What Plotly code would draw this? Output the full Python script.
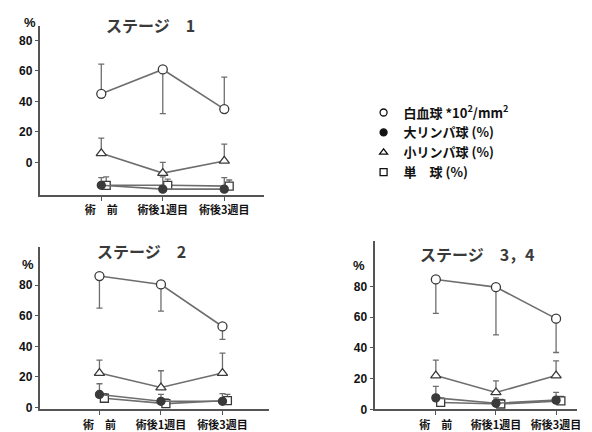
import plotly.graph_objects as go

W, H = 592, 432

# ---- data ----
timepoints = ["術　前", "術後1週目", "術後3週目"]
y_ticks = [0, 20, 40, 60, 80]
y_ticklabels = ["0", "20", "40", "60", "80"]

series_names = ["白血球 *10<sup>2</sup>/mm<sup>2</sup>", "大リンパ球 (%)", "小リンパ球 (%)", "単　球 (%)"]

# Stage 1
s1_wbc = [45, 61, 35]
s1_wbc_up = [19.5, 0, 21]
s1_wbc_dn = [0, 29, 0]
s1_small = [6, -7, 1]
s1_small_up = [10, 7, 11]
s1_large = [-15, -17.5, -17.5]
s1_large_up = [5, 8, 7.5]
s1_mono = [-15, -15, -15.5]
s1_mono_up = [5.5, 4, 4]

# Stage 2
s2_wbc = [86, 80.5, 53]
s2_wbc_up = [0, 0, 0]
s2_wbc_dn = [21, 17.5, 8.5]
s2_small = [22.5, 13, 22.5]
s2_small_up = [8.5, 11, 13]
s2_large = [8.5, 4, 4]
s2_large_up = [7, 4.5, 5]
s2_mono = [6, 2.5, 4.5]
s2_mono_up = [3, 3, 4]

# Stage 3,4
s3_wbc = [84.5, 79.5, 59]
s3_wbc_up = [0, 0, 0]
s3_wbc_dn = [22, 31, 22]
s3_small = [22, 11, 22]
s3_small_up = [10, 7.5, 9.5]
s3_large = [7.5, 4, 6]
s3_large_up = [7.5, 3.5, 5]
s3_mono = [4.5, 3.5, 5.5]
s3_mono_up = [3, 3, 3]

# ---- styling ----
LINE = "#6e6e6e"
MK = "#3a3a3a"
AX = "#555555"
FONT = "Noto Sans CJK JP"
mono_shift = 0.08

fig = go.Figure()

panels = [
    dict(xa="x", ya="y",
         wbc=(s1_wbc, s1_wbc_up, s1_wbc_dn), small=(s1_small, s1_small_up),
         large=(s1_large, s1_large_up), mono=(s1_mono, s1_mono_up)),
    dict(xa="x2", ya="y2",
         wbc=(s2_wbc, s2_wbc_up, s2_wbc_dn), small=(s2_small, s2_small_up),
         large=(s2_large, s2_large_up), mono=(s2_mono, s2_mono_up)),
    dict(xa="x3", ya="y3",
         wbc=(s3_wbc, s3_wbc_up, s3_wbc_dn), small=(s3_small, s3_small_up),
         large=(s3_large, s3_large_up), mono=(s3_mono, s3_mono_up)),
]

idx = list(range(len(timepoints)))

def add(xs, ys, up, dn, symbol, fill, xa, ya, size=8):
    fig.add_trace(go.Scatter(
        x=xs, y=ys, xaxis=xa, yaxis=ya, mode="lines+markers",
        line=dict(color=LINE, width=1.6),
        marker=dict(symbol=symbol, size=size, color=fill, line=dict(color=MK, width=1.3)),
        error_y=dict(type="data", symmetric=False, array=up, arrayminus=dn,
                     color=LINE, thickness=1.3, width=3),
        showlegend=False, hoverinfo="skip"))

for p in panels:
    xa, ya = p["xa"], p["ya"]
    zeros = [0] * len(idx)
    xs_mono = [v + mono_shift for v in idx]
    add(xs_mono, p["mono"][0], p["mono"][1], zeros, "square", "white", xa, ya)
    add(idx, p["large"][0], p["large"][1], zeros, "circle", MK, xa, ya)
    add(idx, p["small"][0], p["small"][1], zeros, "triangle-up", "white", xa, ya, 9)
    add(idx, p["wbc"][0], p["wbc"][1], p["wbc"][2], "circle", "white", xa, ya, 9)

# legend-only traces
for name, sym, fill in zip(series_names,
                           ["circle", "circle", "triangle-up", "square"],
                           ["white", "#111111", "white", "white"]):
    fig.add_trace(go.Scatter(x=[None], y=[None], mode="markers", name=name,
                             marker=dict(symbol=sym, size=7, color=fill,
                                         line=dict(color="#111111", width=1.3)),
                             showlegend=True, hoverinfo="skip"))

def px_dom_x(a, b):
    return [a / W, b / W]

def px_dom_y(top, bottom):
    return [1 - bottom / H, 1 - top / H]

def xaxis(dom, rng, anchor):
    return dict(domain=dom, range=rng, anchor=anchor, showline=True, linecolor=AX,
                linewidth=2, ticks="outside", ticklen=4, tickcolor=AX, tickwidth=1.3,
                tickvals=idx, ticktext=timepoints, showgrid=False, zeroline=False,
                tickfont=dict(family=FONT, size=11, color="#111111", weight="bold"))

def yaxis(dom, rng, anchor):
    return dict(domain=dom, range=rng, anchor=anchor, showline=True, linecolor=AX,
                linewidth=2, ticks="outside", ticklen=3, tickcolor=AX, tickwidth=1.3,
                tickvals=y_ticks, ticktext=y_ticklabels, showgrid=False, zeroline=False,
                tickfont=dict(family="Liberation Sans", size=12, color="#111111", weight="bold"))

fig.update_layout(
    width=W, height=H, margin=dict(l=0, r=0, t=0, b=0),
    paper_bgcolor="white", plot_bgcolor="white",
    xaxis=xaxis(px_dom_x(32, 258), [-1.0, 2.65], "y"),
    yaxis=yaxis(px_dom_y(18, 190), [-21.3, 89.7], "x"),
    xaxis2=xaxis(px_dom_x(32, 263), [-0.97, 2.76], "y2"),
    yaxis2=yaxis(px_dom_y(243, 408), [-1.3, 105], "x2"),
    xaxis3=xaxis(px_dom_x(369, 573), [-1.02, 2.35], "y3"),
    yaxis3=yaxis(px_dom_y(237, 408), [0, 109.4], "x3"),
    legend=dict(x=358 / W, y=1 - 91 / H, xanchor="left", yanchor="top",
                font=dict(family=FONT, size=13, color="#111111", weight="bold"),
                tracegroupgap=0, itemwidth=30, bgcolor="rgba(0,0,0,0)"),
    showlegend=True,
)

annots = [
    ("ステージ　1", 143, 17, 16),
    ("ステージ　2", 134, 247, 16),
    ("ステージ　3，4", 473, 250, 16),
]
for t, x, y, s in annots:
    fig.add_annotation(text=t, x=x / W, y=1 - y / H, xref="paper", yref="paper",
                       showarrow=False, xanchor="center", yanchor="middle",
                       font=dict(family=FONT, size=s, color="#3a3a3a", weight="bold"))

for x, y in [(22, 15), (20, 261), (353, 262)]:
    fig.add_annotation(text="%", x=x / W, y=1 - y / H, xref="paper", yref="paper",
                       showarrow=False, xanchor="center", yanchor="middle",
                       font=dict(family="Liberation Sans", size=13, color="#111111", weight="bold"))

fig.write_html("out.html")
